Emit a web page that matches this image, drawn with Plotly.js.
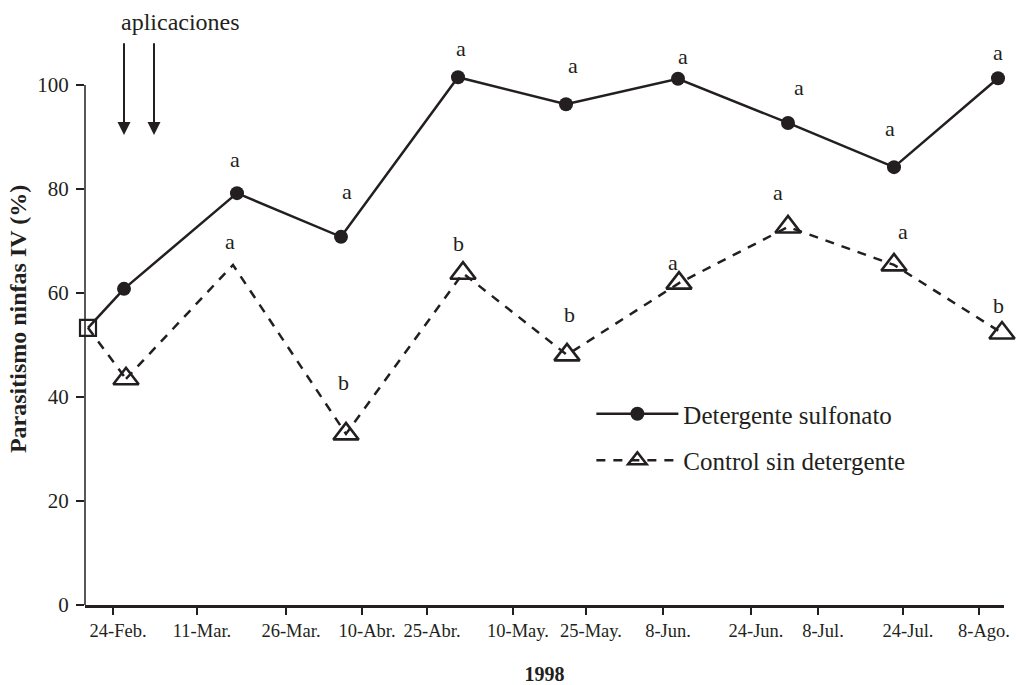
<!DOCTYPE html>
<html><head><meta charset="utf-8">
<script src="https://cdn.plot.ly/plotly-3.0.1.min.js"></script>
<style>html,body{margin:0;padding:0;background:#fff}#chart{width:1016px;height:685px}</style>
</head><body><div id="chart"></div>
<script>
// Positions along the drawn time axis (axis units)
const tickPos = [28, 112, 201, 277, 342, 428, 501, 578, 666, 733, 818, 894];
const tickLabels = ['24-Feb.', '11-Mar.', '26-Mar.', '10-Abr.', '25-Abr.', '10-May.', '25-May.', '8-Jun.', '24-Jun.', '8-Jul.', '24-Jul.', '8-Ago.'];
const yTicks = [0, 20, 40, 60, 80, 100];

// Initial (shared) sample
const startX = [3];
const startY = [53.3];

// Detergente sulfonato
const sulfX = [39, 152, 256, 373, 481, 593, 703, 809, 913];
const sulfY = [60.8, 79.2, 70.8, 101.5, 96.3, 101.2, 92.7, 84.2, 101.3];
const sulfLetters = ['', 'a', 'a', 'a', 'a', 'a', 'a', 'a', 'a'];

// Control sin detergente
const ctrlX = [41, 148, 261, 378, 482, 594, 703, 809, 917];
const ctrlY = [43.5, 65.4, 32.9, 63.8, 48.1, 61.9, 72.7, 65.4, 52.3];
const ctrlLetters = ['', 'a', 'b', 'b', 'b', 'a', 'a', 'a', 'b'];
const ctrlMarked = [true, false, true, true, true, true, true, true, true];

// Applications (arrows)
const appX = [39, 69];

// ---- styling (label offsets in px) ----
const sulfOff = [[0,0],[-2,34],[6,45],[3,29],[7,39],[5,22],[11,35],[-4,39],[0,26]];
const ctrlOff = [[0,0],[-3,23],[-3,51],[-5,30],[2,40],[-6,21],[-10,34],[9,33],[-4,28]];
const INK = '#231f20';
const FONT = 'Liberation Serif, Times New Roman, serif';

const traces = [
  {x: [startX[0], sulfX[0]], y: [startY[0], sulfY[0]], mode: 'lines', showlegend: false,
   line: {color: INK, width: 2.5}, hoverinfo: 'skip'},
  {x: [startX[0], ctrlX[0]], y: [startY[0], ctrlY[0]], mode: 'lines', showlegend: false,
   line: {color: INK, width: 2.5, dash: '9px,8px'}, hoverinfo: 'skip'},
  {x: sulfX, y: sulfY, mode: 'lines+markers', name: 'Detergente sulfonato', legendgroup: 'g1',
   line: {color: INK, width: 2.5}, marker: {symbol: 'circle', size: 14, color: INK, opacity: 1}, cliponaxis: false},
  {x: ctrlX, y: ctrlY, mode: 'lines+markers', name: 'Control sin detergente', legendgroup: 'g2',
   line: {color: INK, width: 2.5, dash: '9px,8px'},
   marker: {symbol: 'triangle-up-open', size: ctrlMarked.map(m => m ? 22 : 0), color: INK, opacity: 1,
            line: {width: 2.6, color: INK}}, cliponaxis: false},
  {x: startX, y: startY, mode: 'markers', showlegend: false,
   marker: {symbol: 'square-open', size: 16, color: INK, opacity: 1, line: {width: 2.2, color: INK}}, cliponaxis: false}
];

const annotations = [];
sulfLetters.forEach((t, i) => { if (t) annotations.push({x: sulfX[i], y: sulfY[i], xref: 'x', yref: 'y', text: t,
  showarrow: false, xshift: sulfOff[i][0], yshift: sulfOff[i][1], font: {size: 22, color: INK, family: FONT}}); });
ctrlLetters.forEach((t, i) => { if (t) annotations.push({x: ctrlX[i], y: ctrlY[i], xref: 'x', yref: 'y', text: t,
  showarrow: false, xshift: ctrlOff[i][0], yshift: ctrlOff[i][1], font: {size: 22, color: INK, family: FONT}}); });
appX.forEach(a => annotations.push({x: a, y: 90.4, ax: a, ay: 108.3, xref: 'x', yref: 'y', axref: 'x', ayref: 'y',
  text: '', showarrow: true, arrowhead: 2, arrowsize: 1.3, arrowwidth: 2, arrowcolor: INK}));
annotations.push({x: 95, y: 1.019, xref: 'x', yref: 'paper', yanchor: 'middle', xanchor: 'center',
  text: 'aplicaciones', showarrow: false, font: {size: 24, color: INK, family: FONT}});

const layout = {
  width: 1016, height: 685,
  margin: {l: 85, r: 12, t: 33, b: 80},
  paper_bgcolor: '#fff', plot_bgcolor: '#fff',
  font: {family: FONT, color: INK, size: 18},
  xaxis: {range: [0, 919], tickvals: tickPos, ticktext: tickLabels, ticks: 'outside', ticklen: 7, tickwidth: 2.5,
          tickcolor: INK, showline: true, linewidth: 2.5, linecolor: INK, showgrid: false, zeroline: false,
          tickfont: {size: 18.5, color: INK}, ticklabelshift: 5,
          title: {text: '<b>1998</b>', font: {size: 20, color: INK}, standoff: 34}},
  yaxis: {range: [0, 110], tickvals: yTicks, ticks: 'outside', ticklen: 8, tickwidth: 2, tickcolor: INK,
          showline: false, showgrid: false, zeroline: false, tickfont: {size: 21, color: INK}, ticklabelstandoff: 3,
          title: {text: '<b>Parasitismo ninfas IV (%)</b>', font: {size: 24, color: INK}, standoff: 3}},
  shapes: [{type: 'line', xref: 'paper', x0: 0, x1: 0, yref: 'y', y0: 0, y1: 100, line: {width: 1.5, color: INK}}],
  legend: {x: 0.551, y: 0.374, xanchor: 'left', yanchor: 'top', font: {size: 25, color: INK}, itemwidth: 82,
           bgcolor: 'rgba(0,0,0,0)', traceorder: 'grouped', tracegroupgap: 11},
  annotations: annotations,
  showlegend: true
};

Plotly.newPlot('chart', traces, layout, {staticPlot: true});
</script>
</body></html>
